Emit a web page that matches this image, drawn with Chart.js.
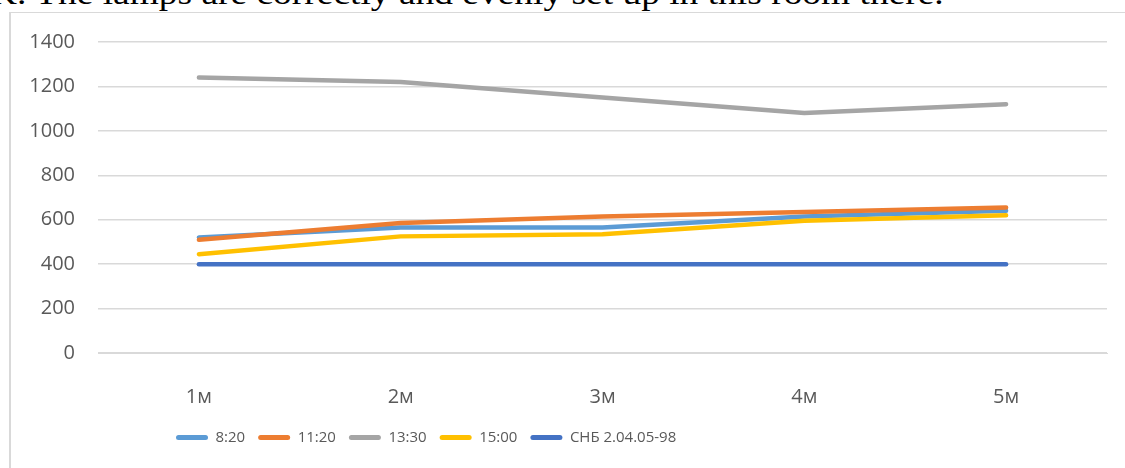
<!DOCTYPE html>
<html>
<head>
<meta charset="utf-8">
<script src="https://cdn.jsdelivr.net/npm/chart.js@4"></script>
<style>
  html, body { margin: 0; padding: 0; background: #fff; }
  body { width: 1125px; height: 468px; position: relative; overflow: hidden; }
  .caption {
    position: absolute; left: -10px; top: -23px;
    font: 32px "Liberation Serif", "Times New Roman", serif; line-height: 32px;
    white-space: nowrap; color: #000;
    transform: scaleX(1.17); transform-origin: 0 0;
  }
  .frame {
    position: absolute; left: 9px; top: 12px; right: -5px; bottom: -5px;
    border-left: 2px solid #d9d9d9; border-top: 1px solid #d9d9d9;
  }
  .wrap { position: absolute; left: 0; top: 0; width: 1125px; height: 468px; }
</style>
</head>
<body>
<div class="caption">K. The lamps are correctly and evenly set up in this room there.</div>
<div class="frame"></div>
<div class="wrap"><canvas id="axes_line_chart"></canvas></div>
<script>
//! Chart data
const months = ['1м', '2м', '3м', '4м', '5м'];
const series_names = ['8:20', '11:20', '13:30', '15:00', 'СНБ 2.04.05-98'];
const at_0820 = [520, 565, 565, 615, 640];
const at_1120 = [510, 585, 615, 635, 655];
const at_1330 = [1240, 1220, 1150, 1080, 1120];
const at_1500 = [445, 525, 535, 595, 620];
const norm_snb = [400, 400, 400, 400, 400];
const y_ticks = [0, 200, 400, 600, 800, 1000, 1200, 1400];

const colors = ['#5B9BD5', '#ED7D31', '#A5A5A5', '#FFC000', '#4472C4'];
const values = [at_0820, at_1120, at_1330, at_1500, norm_snb];

const ctx = document.getElementById('axes_line_chart').getContext('2d');

// move the legend so it starts where it does in the picture
const legendShift = {
    id: 'legendShift',
    afterLayout(chart) {
        const lg = chart.legend;
        const w = lg.right - lg.left;
        lg.left = 176 - lg.options.labels.padding;
        lg.right = lg.left + w;
    }
};

let my_chart = new Chart(ctx, {
    type: 'line',
    data: {
        labels: months,
        datasets: series_names.map((name, i) => ({
            label: name,
            data: values[i],
            borderColor: colors[i],
            backgroundColor: colors[i],
            borderWidth: 4.5,
            borderCapStyle: 'round',
            borderJoinStyle: 'round',
            pointRadius: 0,
            pointHoverRadius: 0,
            tension: 0,
            fill: false,
            order: series_names.length - i
        }))
    },
    options: {
        responsive: true,
        maintainAspectRatio: false,
        animation: false,
        layout: { padding: { left: 0, right: 18, top: 42, bottom: 13 } },
        scales: {
            x: {
                offset: true,
                grid: { display: false, drawTicks: false },
                border: { display: true, color: '#d9d9d9', width: 1 },
                ticks: {
                    padding: 32,
                    color: '#595959',
                    font: { family: 'Open Sans', size: 20 }
                },
                afterFit: scale => { scale.height = 64; }
            },
            y: {
                min: 0,
                max: 1400,
                afterBuildTicks: scale => { scale.ticks = y_ticks.map(v => ({ value: v })); },
                grid: { color: '#d9d9d9', lineWidth: 1.5, drawTicks: false },
                border: { display: false },
                ticks: {
                    padding: 23,
                    color: '#595959',
                    font: { family: 'Open Sans', size: 20 },
                    callback: v => String(v)
                },
                afterFit: scale => { scale.width = 98; }
            }
        },
        plugins: {
            tooltip: { enabled: false },
            legend: {
                position: 'bottom',
                align: 'start',
                labels: {
                    boxWidth: 32,
                    boxHeight: 5,
                    useBorderRadius: true,
                    borderRadius: 2.5,
                    padding: 13,
                    color: '#595959',
                    font: { family: 'Open Sans', size: 15 },
                    sort: (a, b) => a.datasetIndex - b.datasetIndex,
                    generateLabels: chart => {
                        const items = Chart.defaults.plugins.legend.labels.generateLabels(chart);
                        items.forEach(it => { it.lineWidth = 0; it.fillStyle = it.strokeStyle; });
                        return items;
                    }
                }
            }
        }
    },
    plugins: [legendShift]
});
</script>
</body>
</html>
